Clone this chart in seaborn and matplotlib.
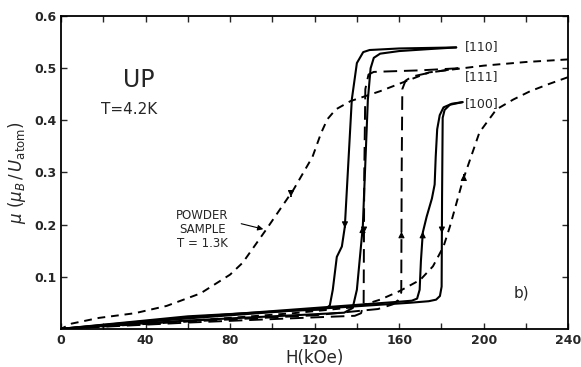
import numpy as np
import pandas as pd
import matplotlib
matplotlib.use("Agg")
import matplotlib.pyplot as plt
import seaborn as sns

# ---- data (H in kOe, mu in mu_B / U atom) ----
h110_up = [0, 60, 120, 134, 138, 140, 142.8, 145.2, 146.5, 148, 151, 160, 175, 187]
m110_up = [0, 0.016, 0.028, 0.031, 0.040, 0.075, 0.196, 0.44, 0.50, 0.52, 0.528, 0.533, 0.537, 0.540]
h110_dn = [187, 160, 146, 143, 140, 137.6, 134.3, 132.9, 130.5, 128.6, 127.2, 124.8, 110, 60, 0]
m110_dn = [0.540, 0.538, 0.535, 0.531, 0.51, 0.44, 0.196, 0.158, 0.138, 0.075, 0.045, 0.037, 0.035, 0.024, 0]

h111_up = [0, 60, 120, 150, 157, 159.5, 161, 161.2, 161.5, 163, 166, 175, 188]
m111_up = [0, 0.014, 0.026, 0.038, 0.047, 0.055, 0.07, 0.30, 0.46, 0.476, 0.484, 0.492, 0.50]
h111_dn = [188, 170, 155, 148, 145.5, 144, 143.5, 143.2, 142, 139, 120, 60, 0]
m111_dn = [0.50, 0.496, 0.494, 0.493, 0.488, 0.46, 0.30, 0.05, 0.03, 0.025, 0.022, 0.012, 0]

h100_up = [0, 60, 120, 165, 174, 177.5, 179.3, 180.1, 180.3, 180.6, 181.5, 184, 190]
m100_up = [0, 0.02, 0.038, 0.05, 0.053, 0.056, 0.063, 0.081, 0.25, 0.405, 0.42, 0.43, 0.435]
h100_dn = [190, 185, 181, 179.2, 178, 177.3, 176.8, 175.5, 173, 171.2, 170.3, 169.7, 168.5, 166, 160, 120, 60, 0]
m100_dn = [0.435, 0.432, 0.425, 0.41, 0.383, 0.33, 0.277, 0.25, 0.215, 0.185, 0.13, 0.075, 0.058, 0.054, 0.052, 0.04, 0.022, 0]

hpow_up = [0, 60, 110, 140, 151, 160, 170, 176, 181, 184, 190, 198, 206, 214, 222, 231, 240]
mpow_up = [0, 0.015, 0.03, 0.042, 0.056, 0.072, 0.094, 0.12, 0.158, 0.196, 0.283, 0.377, 0.421, 0.44, 0.456, 0.47, 0.483]
hpow_dn = [240, 220, 200, 174, 151, 137, 130, 126, 123, 119, 110, 97, 86, 80, 66, 50, 35, 18, 5, 0]
mpow_dn = [0.517, 0.512, 0.505, 0.492, 0.456, 0.437, 0.421, 0.402, 0.375, 0.33, 0.267, 0.19, 0.127, 0.104, 0.068, 0.044, 0.03, 0.021, 0.01, 0]

x_ticks = [0, 40, 80, 120, 160, 200, 240]
y_ticks = [0.1, 0.2, 0.3, 0.4, 0.5, 0.6]

sns.set_style("ticks")
plt.rcParams['font.family'] = ['DejaVu Sans']

fig = plt.figure(figsize=(5.81, 3.67), dpi=100)
ax = fig.add_axes([0.105, 0.104, 0.873, 0.852])

SOLID = dict(color='black', lw=1.5, linestyle='-')
LDASH = dict(color='black', lw=1.4, linestyle=(0, (7, 3.5)))
SDASH = dict(color='black', lw=1.4, linestyle=(0, (4, 3)))

branches = [
    (h110_up, m110_up, SOLID), (h110_dn, m110_dn, SOLID),
    (h111_up, m111_up, LDASH), (h111_dn, m111_dn, LDASH),
    (h100_up, m100_up, SOLID), (h100_dn, m100_dn, SOLID),
    (hpow_up, mpow_up, SDASH), (hpow_dn, mpow_dn, SDASH),
]
for hh, mm, st in branches:
    sns.lineplot(x=hh, y=mm, sort=False, estimator=None, ax=ax, **st)


def cross(hh, mm, level):
    for i in range(len(mm) - 1):
        a, b = mm[i], mm[i + 1]
        if (a - level) * (b - level) <= 0 and a != b:
            t = (level - a) / (b - a)
            return hh[i] + t * (hh[i + 1] - hh[i])
    return None


def arrow(hh, mm, level, up):
    x = cross(hh, mm, level)
    d = 0.012 if up else -0.012
    ax.annotate('', xy=(x, level + d), xytext=(x, level),
                arrowprops=dict(arrowstyle='-|>', color='black', lw=0.8,
                                mutation_scale=9))


arrow(hpow_dn, mpow_dn, 0.26, False)
arrow(hpow_up, mpow_up, 0.29, True)
arrow(h110_dn, m110_dn, 0.20, False)
arrow(h110_up, m110_up, 0.19, True)
arrow(h111_up, m111_up, 0.18, True)
arrow(h111_dn, m111_dn, 0.19, False)
arrow(h100_dn, m100_dn, 0.18, True)
arrow(h100_up, m100_up, 0.19, False)

ax.set_xlim(0, 240)
ax.set_ylim(0, 0.6)
ax.set_xticks(x_ticks)
ax.set_xticks(np.arange(0, 241, 20), minor=True)
ax.set_yticks(y_ticks)
ax.set_xticklabels([str(v) for v in x_ticks], fontsize=9, fontweight='bold')
ax.set_yticklabels([f"{v:.1f}" for v in y_ticks], fontsize=9, fontweight='bold')
ax.tick_params(direction='in', which='both', top=True, right=True, length=4, width=1)
for s in ax.spines.values():
    s.set_linewidth(1.3)
    s.set_color('black')

ax.set_xlabel('H(kOe)', fontsize=12, labelpad=2)
ax.set_ylabel(r'$\mu\ (\mu_B\,/\,U_{\rm atom})$', fontsize=12, labelpad=4)

ax.text(37, 0.478, 'UP', fontsize=17, ha='center', va='center')
ax.text(32, 0.421, 'T=4.2K', fontsize=11, ha='center', va='center')
ax.text(67, 0.19, 'POWDER\nSAMPLE\nT = 1.3K', fontsize=8.5, ha='center', va='center',
        linespacing=1.1)
ax.annotate('', xy=(97, 0.19), xytext=(84, 0.203),
            arrowprops=dict(arrowstyle='-|>', color='black', lw=0.8, mutation_scale=8))
ax.text(191, 0.542, '[110]', fontsize=9, ha='left', va='center')
ax.text(191, 0.484, '[111]', fontsize=9, ha='left', va='center')
ax.text(191, 0.433, '[100]', fontsize=9, ha='left', va='center')
ax.text(218, 0.068, 'b)', fontsize=11, ha='center', va='center')

fig.savefig('out.png', dpi=100, facecolor='white')
